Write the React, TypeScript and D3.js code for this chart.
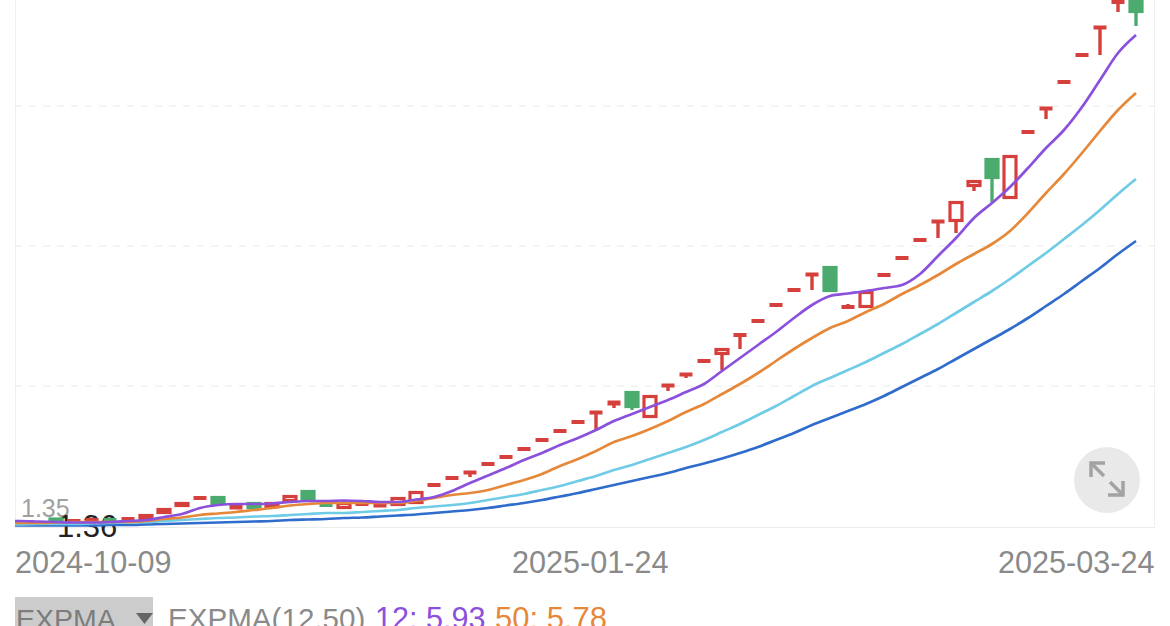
import React from "react";
import * as d3 from "d3";

const opens = [1.36,1.36,1.36,1.40,1.38,1.39,1.39,1.40,1.405,1.465,1.535,1.61,1.615,1.515,1.555,1.525,1.585,1.675,1.55,1.515,1.55,1.535,1.545,1.565,1.74,1.81,1.865,1.95,2.02,2.10,2.19,2.28,2.37,2.465,2.555,2.665,2.425,2.735,2.845,2.98,3.055,3.24,3.38,3.54,3.69,3.845,3.915,3.52,3.525,3.84,4.01,4.19,4.375,4.385,4.735,4.995,4.615,5.27,5.505,5.77,6.04,6.315,6.57,6.66];
const closes = [1.36,1.36,1.36,1.38,1.38,1.39,1.38,1.40,1.435,1.495,1.555,1.61,1.555,1.525,1.515,1.555,1.625,1.605,1.54,1.555,1.55,1.545,1.605,1.665,1.74,1.81,1.865,1.95,2.02,2.10,2.19,2.28,2.37,2.465,2.565,2.525,2.625,2.735,2.845,2.98,3.095,3.24,3.38,3.54,3.69,3.845,3.685,3.52,3.665,3.84,4.01,4.19,4.375,4.565,4.775,4.815,5.025,5.27,5.505,5.77,6.04,6.315,6.57,6.475];
const highs = [1.36,1.36,1.36,1.40,1.38,1.39,1.39,1.40,1.435,1.495,1.555,1.61,1.615,1.525,1.555,1.555,1.625,1.675,1.55,1.59,1.59,1.545,1.605,1.665,1.74,1.81,1.865,1.95,2.02,2.10,2.19,2.28,2.37,2.465,2.565,2.665,2.625,2.735,2.845,2.98,3.095,3.24,3.38,3.54,3.69,3.845,3.915,3.55,3.665,3.84,4.01,4.19,4.375,4.565,4.775,4.995,5.025,5.27,5.505,5.77,6.04,6.315,6.57,6.66];
const lows = [1.36,1.36,1.36,1.38,1.38,1.39,1.38,1.40,1.405,1.465,1.535,1.61,1.555,1.515,1.515,1.525,1.585,1.605,1.54,1.515,1.53,1.535,1.545,1.565,1.74,1.81,1.82,1.95,2.02,2.10,2.19,2.28,2.37,2.28,2.51,2.49,2.425,2.68,2.81,2.98,2.89,3.10,3.38,3.54,3.69,3.69,3.685,3.52,3.525,3.84,4.01,4.19,4.21,4.26,4.68,4.57,4.615,5.27,5.40,5.77,6.04,6.04,6.47,6.33];

const ema12 = [1.38,1.38,1.375,1.37,1.365,1.365,1.37,1.38,1.39,1.42,1.45,1.51,1.54,1.55,1.55,1.555,1.57,1.58,1.58,1.585,1.58,1.57,1.57,1.595,1.62,1.68,1.76,1.835,1.91,1.99,2.06,2.14,2.21,2.29,2.38,2.45,2.52,2.59,2.67,2.75,2.88,3.01,3.14,3.27,3.41,3.54,3.63,3.655,3.68,3.71,3.74,3.85,4.03,4.21,4.41,4.56,4.72,4.91,5.11,5.29,5.52,5.79,6.06,6.24];
const ema50 = [1.36,1.36,1.36,1.365,1.37,1.37,1.37,1.37,1.38,1.40,1.415,1.44,1.455,1.47,1.49,1.51,1.535,1.55,1.56,1.56,1.56,1.56,1.56,1.58,1.61,1.64,1.66,1.69,1.74,1.79,1.85,1.93,2.00,2.08,2.17,2.23,2.30,2.38,2.47,2.55,2.65,2.75,2.86,2.98,3.10,3.21,3.31,3.38,3.47,3.55,3.65,3.74,3.84,3.95,4.05,4.15,4.28,4.46,4.66,4.85,5.06,5.28,5.49,5.66];
const emaC = [1.345,1.345,1.35,1.35,1.35,1.355,1.36,1.365,1.37,1.38,1.39,1.40,1.41,1.415,1.425,1.43,1.44,1.45,1.46,1.46,1.47,1.48,1.49,1.51,1.525,1.54,1.56,1.59,1.62,1.65,1.69,1.73,1.78,1.83,1.89,1.94,2.00,2.06,2.12,2.19,2.27,2.35,2.44,2.53,2.63,2.73,2.81,2.89,2.97,3.06,3.15,3.25,3.35,3.46,3.57,3.68,3.80,3.93,4.06,4.20,4.34,4.49,4.65,4.80];
const emaD = [1.335,1.335,1.335,1.335,1.335,1.335,1.34,1.34,1.345,1.35,1.355,1.36,1.365,1.37,1.375,1.38,1.39,1.395,1.40,1.41,1.415,1.425,1.435,1.445,1.46,1.475,1.49,1.51,1.535,1.56,1.59,1.625,1.66,1.70,1.74,1.78,1.82,1.86,1.91,1.955,2.005,2.06,2.12,2.19,2.26,2.34,2.41,2.48,2.55,2.63,2.72,2.81,2.90,3.00,3.10,3.20,3.30,3.41,3.53,3.65,3.78,3.91,4.05,4.18];

const gridValues = [2.73, 4.13, 5.53];
const dateLabels = ["2024-10-09", "2025-01-24", "2025-03-24"];
const lowLabel = "1.35";
const cursorLabel = "1.36";
const lines = [
  { values: emaD, color: "#2f6ccb" },
  { values: emaC, color: "#6fcbe6" },
  { values: ema50, color: "#e6883a" },
  { values: ema12, color: "#8b50dc" },
];

const RED = "#d5403c";
const GREEN = "#4bab6f";
const FONT = "'Liberation Sans', Arial, sans-serif";

export default function App() {
  const x = d3.scaleLinear().domain([0, opens.length - 1]).range([2, 1136]);
  const y = d3.scaleLinear().domain([1.32, 6.59]).range([527, 0]);
  const line = d3
    .line<number>()
    .x((_, i) => x(i))
    .y((d) => y(d))
    .curve(d3.curveMonotoneX);

  return (
    <svg
      width={1170}
      height={626}
      viewBox="0 0 1170 626"
      style={{ position: "absolute", left: 0, top: 0, background: "#fff", fontFamily: FONT }}
    >
      <defs>
        <clipPath id="plot">
          <rect x={15} y={0} width={1140} height={530} />
        </clipPath>
      </defs>
      <line x1={15.5} x2={15.5} y1={0} y2={527} stroke="#f0f0f0" />
      <line x1={1154.5} x2={1154.5} y1={0} y2={527} stroke="#f0f0f0" />
      <line x1={15} x2={1155} y1={527.5} y2={527.5} stroke="#ececec" />
      {gridValues.map((v) => (
        <line
          key={v}
          x1={15}
          x2={1155}
          y1={y(v)}
          y2={y(v)}
          stroke="#eaeaea"
          strokeDasharray="7 7"
        />
      ))}

      <text x={21} y={517} fontSize={25} fill="#a0a0a0">{lowLabel}</text>
      <text x={57} y={537} fontSize={31} fill="#222">{cursorLabel}</text>

      <g clipPath="url(#plot)">
        {opens.map((o, i) => {
          const c = closes[i];
          const up = c >= o;
          const color = c < o ? GREEN : RED;
          const top = y(Math.max(o, c));
          const bottom = y(Math.min(o, c));
          const h = bottom - top;
          const cx = x(i);
          const flat = h < 1.5;
          return (
            <g key={i}>
              <line x1={cx} x2={cx} y1={y(highs[i])} y2={y(lows[i])} stroke={color} strokeWidth={3.4} />
              {flat ? (
                <rect x={cx - 6.5} y={top - 2} width={13} height={h + 4} fill={color} />
              ) : (
                <rect
                  x={cx - 6}
                  y={top}
                  width={12}
                  height={h}
                  fill={up ? "#fff" : color}
                  stroke={color}
                  strokeWidth={3.2}
                />
              )}
            </g>
          );
        })}

        {lines.map((l) => (
          <path
            key={l.color}
            d={line(l.values) ?? ""}
            fill="none"
            stroke={l.color}
            strokeWidth={2.7}
            strokeLinejoin="round"
          />
        ))}
      </g>

      <circle cx={1107} cy={480} r={33} fill="#e9e9e9" />
      <g stroke="#a3a3a3" strokeWidth={3.5} fill="none">
        <path d="M1091 477 V463 H1105" />
        <path d="M1091 463 L1104 476" />
        <path d="M1123 481 V495 H1108" />
        <path d="M1123 495 L1110 482" />
      </g>

      <g fontSize={30.6} fill="#8a8a8a">
        <text x={15} y={573}>{dateLabels[0]}</text>
        <text x={512} y={573}>{dateLabels[1]}</text>
        <text x={998} y={573}>{dateLabels[2]}</text>
      </g>

      <rect x={15} y={597} width={138} height={29} fill="#cccccc" />
      <text x={16} y={629} fontSize={28.5} fill="#7c7c7c">EXPMA</text>
      <path d="M136 613 H153 L144.5 624 Z" fill="#666" />
      <text x={168} y={629} fontSize={29.6} fill="#8a8a8a">EXPMA(12,50)</text>
      <text x={375} y={629} fontSize={30.6} fill="#8b50dc">12: 5.93</text>
      <text x={495} y={629} fontSize={31} fill="#e6883a">50: 5.78</text>
    </svg>
  );
}
